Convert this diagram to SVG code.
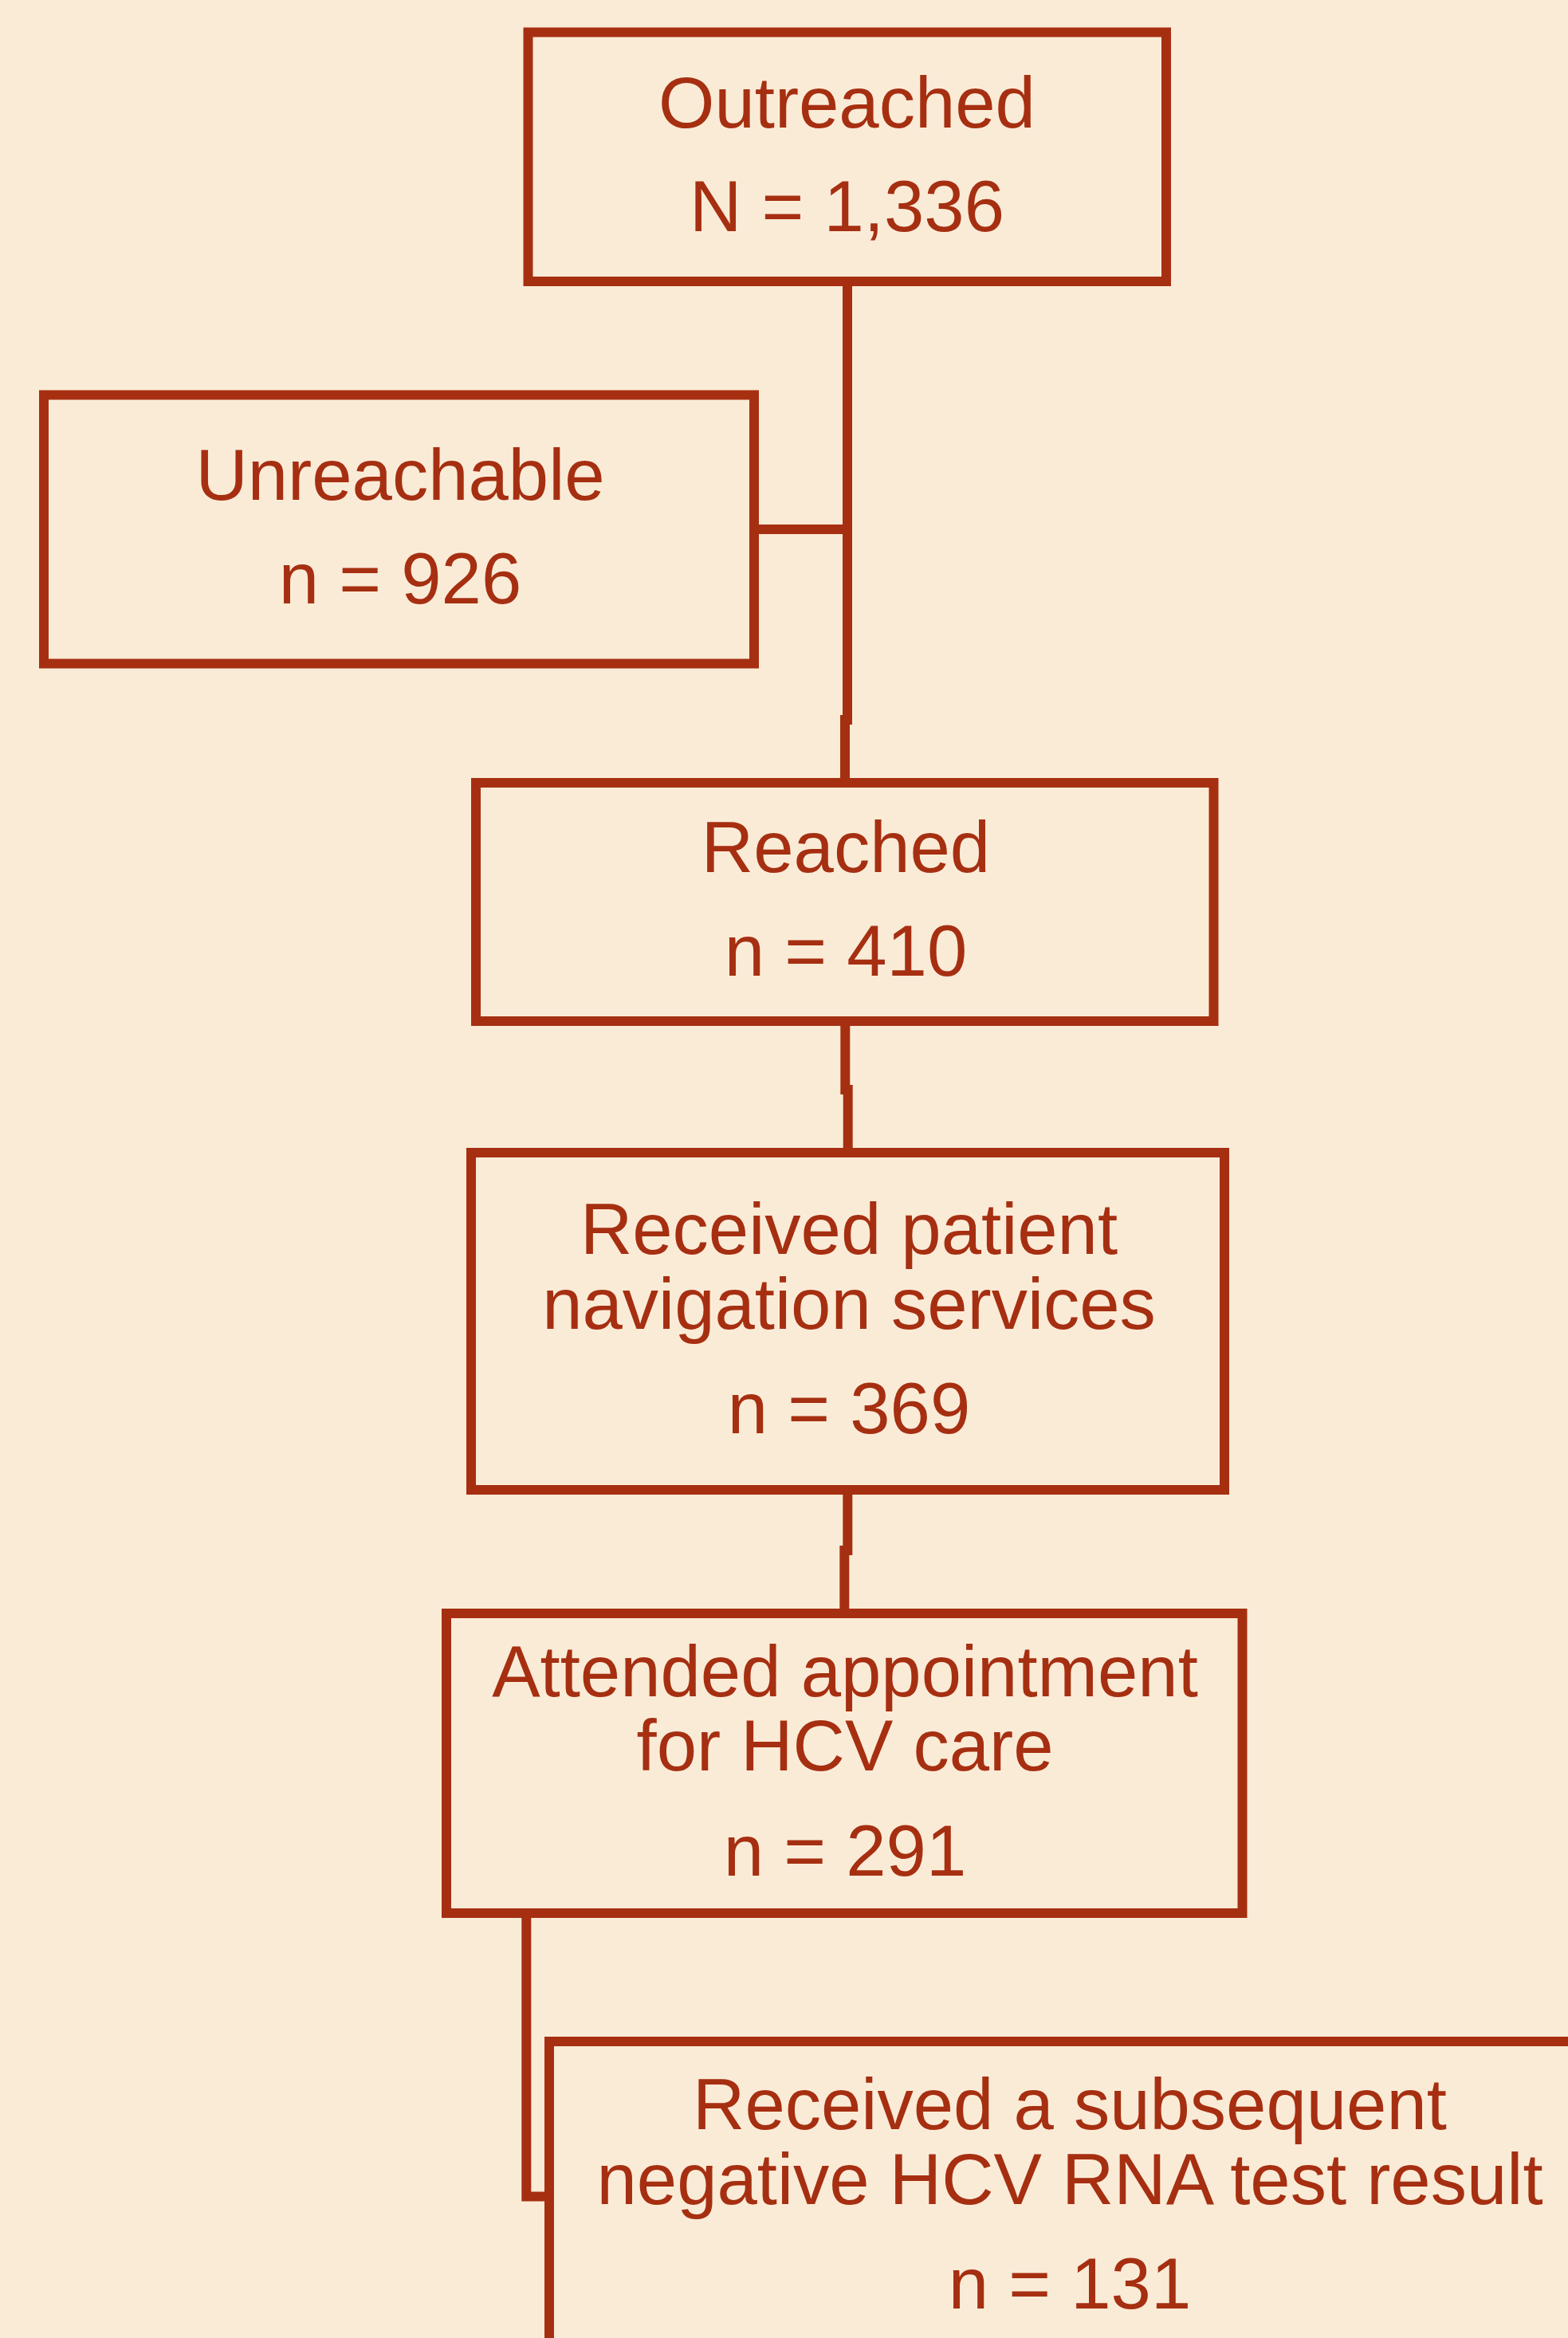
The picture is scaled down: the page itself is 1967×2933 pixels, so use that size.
<svg xmlns="http://www.w3.org/2000/svg" width="1967" height="2933" viewBox="0 0 1967 2933">
<style>
.box{fill:#FAEBD7;stroke:#A62F11;stroke-width:12}
.ln{fill:none;stroke:#A62F11;stroke-width:12;stroke-linecap:butt;stroke-linejoin:miter}
text{font-family:"Liberation Sans",Arial,sans-serif;font-size:90.5px;fill:#A62F11;text-anchor:middle}
</style>
<rect width="1967" height="2933" fill="#FAEBD7"/>
<g id="connectors">
<line class="ln" x1="1063" y1="353" x2="1063" y2="909"/>
<line class="ln" x1="1060" y1="897" x2="1060" y2="982"/>
<line class="ln" x1="946" y1="664" x2="1063" y2="664"/>
<line class="ln" x1="1060.3" y1="1281" x2="1060.3" y2="1373"/>
<line class="ln" x1="1063.7" y1="1361" x2="1063.7" y2="1446"/>
<line class="ln" x1="1063.3" y1="1869" x2="1063.3" y2="1951"/>
<line class="ln" x1="1059.3" y1="1939" x2="1059.3" y2="2024"/>
<path class="ln" d="M660.3,2400 V2755.5 H689"/>
</g>
<g id="outreached">
<rect class="box" x="662.5" y="40.5" width="800.5" height="312.5"/>
<text x="1062.5" y="160">Outreached</text>
<text x="1062.5" y="290">N = 1,336</text>
</g>
<g id="unreachable">
<rect class="box" x="55" y="495.5" width="891" height="337"/>
<text x="502" y="627">Unreachable</text>
<text x="502" y="757">n = 926</text>
</g>
<g id="reached">
<rect class="box" x="597" y="982" width="925.5" height="299"/>
<text x="1061" y="1094">Reached</text>
<text x="1061" y="1224">n = 410</text>
</g>
<g id="navigation">
<rect class="box" x="591" y="1446" width="945" height="423"/>
<text x="1065" y="1573">Received patient</text>
<text x="1065" y="1667">navigation services</text>
<text x="1065" y="1798">n = 369</text>
</g>
<g id="attended">
<rect class="box" x="560" y="2024" width="998.5" height="376"/>
<text x="1060" y="2128">Attended appointment</text>
<text x="1060" y="2221">for HCV care</text>
<text x="1060" y="2353">n = 291</text>
</g>
<g id="negative">
<rect class="box" x="689" y="2561" width="1306" height="420"/>
<text x="1342" y="2671">Received a subsequent</text>
<text x="1342" y="2765">negative HCV RNA test result</text>
<text x="1342" y="2896">n = 131</text>
</g>
</svg>
